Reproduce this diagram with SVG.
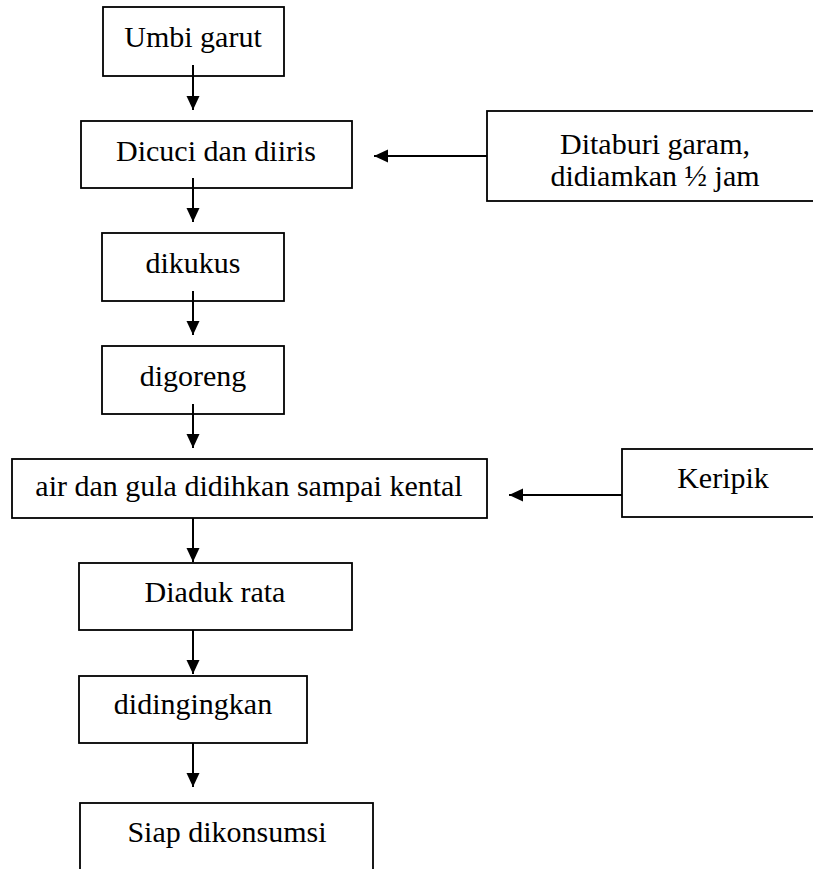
<svg xmlns="http://www.w3.org/2000/svg" width="813" height="869" viewBox="0 0 813 869">
  <style>
    .box { fill: #fff; stroke: #000; stroke-width: 1.8; }
    .lbl { font-family: "Liberation Serif", "Times New Roman", serif; font-size: 30px; fill: #000; text-anchor: middle; }
    .conn { stroke: #000; stroke-width: 2; fill: none; marker-end: url(#head); }
  </style>
  <defs>
    <marker id="head" markerUnits="userSpaceOnUse" markerWidth="15" markerHeight="14" refX="14" refY="6.5" orient="auto">
      <path d="M0,0 L14,6.5 L0,13 z" fill="#000"/>
    </marker>
  </defs>
  <rect width="813" height="869" fill="#fff"/>

  <g id="umbi-garut">
    <rect class="box" x="103" y="7" width="181" height="69"/>
    <text class="lbl" x="193" y="47">Umbi garut</text>
  </g>
  <g id="dicuci">
    <rect class="box" x="81" y="121" width="271" height="67"/>
    <text class="lbl" x="216" y="161">Dicuci dan diiris</text>
  </g>
  <g id="ditaburi">
    <rect class="box" x="487" y="111" width="340" height="90"/>
    <text class="lbl" x="655" y="154">Ditaburi garam,</text>
    <text class="lbl" x="655" y="186">didiamkan ½ jam</text>
  </g>
  <g id="dikukus">
    <rect class="box" x="102" y="233" width="182" height="68"/>
    <text class="lbl" x="193" y="273">dikukus</text>
  </g>
  <g id="digoreng">
    <rect class="box" x="102" y="346" width="182" height="68"/>
    <text class="lbl" x="193" y="386">digoreng</text>
  </g>
  <g id="sirup">
    <rect class="box" x="12" y="459" width="475" height="59"/>
    <text class="lbl" x="249" y="496">air dan gula didihkan sampai kental</text>
  </g>
  <g id="keripik">
    <rect class="box" x="622" y="449" width="202" height="68"/>
    <text class="lbl" x="723" y="488">Keripik</text>
  </g>
  <g id="diaduk">
    <rect class="box" x="79" y="563" width="273" height="67"/>
    <text class="lbl" x="215" y="602">Diaduk rata</text>
  </g>
  <g id="didinginkan">
    <rect class="box" x="79" y="676" width="228" height="67"/>
    <text class="lbl" x="193" y="714">didingingkan</text>
  </g>
  <g id="siap">
    <rect class="box" x="80" y="803" width="293" height="80"/>
    <text class="lbl" x="227" y="842">Siap dikonsumsi</text>
  </g>

  <g id="connectors">
    <line class="conn" x1="193" y1="65" x2="193" y2="110"/>
    <line class="conn" x1="193" y1="178" x2="193" y2="222"/>
    <line class="conn" x1="193" y1="291" x2="193" y2="335"/>
    <line class="conn" x1="193" y1="404" x2="193" y2="448"/>
    <line class="conn" x1="193" y1="518" x2="193" y2="562"/>
    <line class="conn" x1="193" y1="630" x2="193" y2="674"/>
    <line class="conn" x1="193" y1="743" x2="193" y2="787"/>
    <line class="conn" x1="487" y1="156" x2="374" y2="156"/>
    <line class="conn" x1="622" y1="495" x2="509" y2="495"/>
  </g>
</svg>
